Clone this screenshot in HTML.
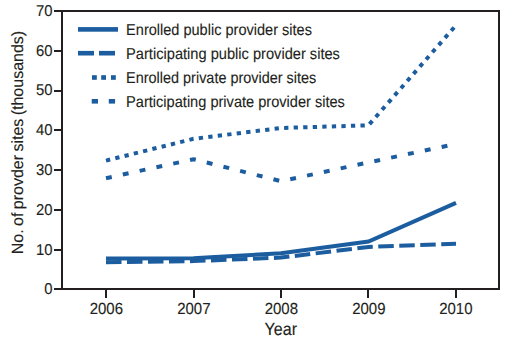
<!DOCTYPE html>
<html><head><meta charset="utf-8">
<style>
html,body{margin:0;padding:0;background:#fff;}
body{width:520px;height:340px;overflow:hidden;position:relative;}
svg{position:absolute;left:0;top:0;}
text{font-family:"Liberation Sans",sans-serif;fill:#231f20;text-rendering:geometricPrecision;stroke:#231f20;stroke-width:0.12px;}
</style></head><body>
<svg width="520" height="340" viewBox="0 0 520 340">
<g fill="none" stroke="#1c5d9f" stroke-width="4.0" stroke-linejoin="miter" stroke-linecap="butt">
  <polyline points="106,262.2 193.5,261.1 281,257.6 368.5,246.9 456,243.8" stroke-dasharray="15.5 5.5"/>
  <polyline points="106,258.5 193.5,258.2 281,253.2 368.5,241.5 456,202.9"/>
  <polyline points="106,160.6 193.5,138.8 281,128 368.5,125.3 456,25.3" stroke-dasharray="4.3 5.25"/>
  <polyline points="106,178.2 193.5,159.2 281,181.2 368.5,162.4 456,143.9" stroke-dasharray="5.9 11.3"/>
</g>
<g fill="#1c5d9f">
  <rect x="78" y="27.1" width="40" height="4.6"/>
  <rect x="78" y="50.9" width="16" height="4.6"/>
  <rect x="99" y="50.9" width="16" height="4.6"/>
  <rect x="92" y="75.2" width="4.8" height="4.6"/>
  <rect x="101.2" y="75.2" width="4.8" height="4.6"/>
  <rect x="111" y="75.2" width="4.8" height="4.6"/>
  <rect x="91.7" y="99" width="6.3" height="4.6"/>
  <rect x="108.8" y="99" width="6.3" height="4.6"/>
</g>
<g fill="none" stroke="#231f20" stroke-width="2">
  <rect x="62" y="11" width="437" height="278"/>
  <path d="M54 11H62M54 51H62M54 91H62M54 130H62M54 170H62M54 210H62M54 250H62M54 289H62"/>
  <path d="M106 289V298M194 289V298M281 289V298M368 289V298M456 289V298"/>
</g>
<g font-size="15.8">
  <text transform="translate(126.1,35) scale(0.920,1)">Enrolled public provider sites</text>
  <text transform="translate(126.1,58.7) scale(0.926,1)">Participating public provider sites</text>
  <text transform="translate(126.1,82.8) scale(0.914,1)">Enrolled private provider sites</text>
  <text transform="translate(126.1,106.7) scale(0.923,1)">Participating private provider sites</text>
</g>
<g font-size="15.6" text-anchor="end">
  <text transform="translate(52.5,15.9) scale(0.95,1)">70</text>
  <text transform="translate(52.5,55.8) scale(0.95,1)">60</text>
  <text transform="translate(52.5,94.8) scale(0.95,1)">50</text>
  <text transform="translate(52.5,134.8) scale(0.95,1)">40</text>
  <text transform="translate(52.5,174.7) scale(0.95,1)">30</text>
  <text transform="translate(52.5,214.8) scale(0.95,1)">20</text>
  <text transform="translate(52.5,254.7) scale(0.95,1)">10</text>
  <text transform="translate(52.5,293.8) scale(0.95,1)">0</text>
</g>
<g font-size="16" text-anchor="middle">
  <text transform="translate(106.3,313.7) scale(0.936,1)">2006</text>
  <text transform="translate(193.8,313.7) scale(0.936,1)">2007</text>
  <text transform="translate(281.3,313.7) scale(0.936,1)">2008</text>
  <text transform="translate(368.8,313.7) scale(0.936,1)">2009</text>
  <text transform="translate(455.8,313.7) scale(0.936,1)">2010</text>
</g>
<text transform="translate(280.8,334.8) scale(0.902,1)" font-size="17.8" text-anchor="middle">Year</text>
<text transform="translate(23.3,254.2) rotate(-90) scale(0.983,1)" font-size="16.3" word-spacing="-1.1">No. of provder sites (thousands)</text>
</svg>
</body></html>
